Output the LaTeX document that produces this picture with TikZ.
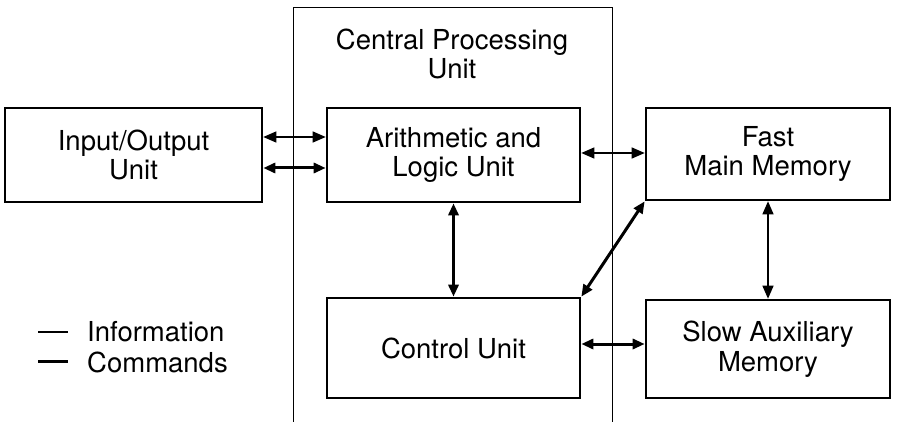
\documentclass[tikz,border=0pt]{standalone}
\usepackage{fontspec}
\setmainfont{TeX Gyre Heros}
\usetikzlibrary{arrows.meta}
\begin{document}
\begin{tikzpicture}[x=1pt,y=-1pt,
  txt/.style={font=\fontsize{27.5}{29.5}\selectfont},
  unitbox/.style={txt,draw,line width=2.6pt,align=center,inner sep=0pt},
  infoline/.style={line width=1.3pt,{Triangle[length=13pt,width=11pt]}-{Triangle[length=13pt,width=11pt]}},
  cmdline/.style={line width=3pt,{Triangle[length=12pt,width=10pt]}-{Triangle[length=12pt,width=10pt]}},
  lbl/.style={txt,anchor=west,inner sep=0pt}]
\useasboundingbox (0,0) rectangle (899,422);
% CPU frame
\draw[line width=1pt] (293,422) -- (293,8) -- (612,8) -- (612,422);
\node[txt,align=center] (cpu) at (452,54) {Central Processing\\Unit};
% units
\node[unitbox,minimum width=257pt,minimum height=94pt] (io) at (133.5,155) {Input/Output\\Unit};
\node[unitbox,minimum width=253pt,minimum height=94pt] (alu) at (453.5,155) {Arithmetic and\\Logic Unit};
\node[unitbox,minimum width=244pt,minimum height=92pt] (fmm) at (768,154) {Fast\\Main Memory};
\node[unitbox,minimum width=253pt,minimum height=100pt] (cu) at (453.5,348) {Control Unit};
\node[unitbox,minimum width=244pt,minimum height=98pt] (sam) at (768,349) {Slow Auxiliary\\Memory};
% connectors
\draw[infoline] (io.east |- 0,137) -- (alu.west |- 0,137);
\draw[cmdline] (io.east |- 0,168) -- (alu.west |- 0,168);
\draw[infoline] (alu.east |- 0,153) -- (fmm.west |- 0,153);
\draw[cmdline] (alu.south) -- (cu.north);
\draw[infoline] (fmm.south) -- (sam.north);
\draw[cmdline] (cu.east |- 0,344) -- (sam.west |- 0,344);
\draw[cmdline] (cu.north east) -- (fmm.south west);
% legend
\coordinate (li0) at (38,332); \coordinate (li1) at (68,332);
\coordinate (lc0) at (38,361); \coordinate (lc1) at (68,361);
\draw[line width=1.2pt] (li0) -- (li1);
\draw[line width=3pt] (lc0) -- (lc1);
\node[lbl] (linfo) at (87,332) {Information};
\node[lbl] (lcmd) at (87,362) {Commands};
\end{tikzpicture}
\end{document}
